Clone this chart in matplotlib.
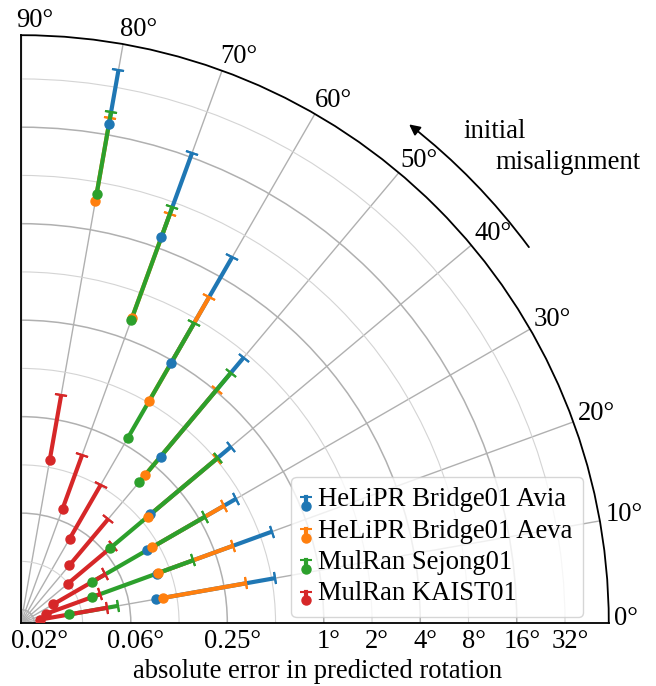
import numpy as np
import matplotlib
matplotlib.use('Agg')
import matplotlib.pyplot as plt
from matplotlib.lines import Line2D
from matplotlib.legend_handler import HandlerBase
from matplotlib.transforms import ScaledTranslation

plt.rcParams['font.family'] = 'serif'
plt.rcParams['font.serif'] = ['Liberation Serif', 'DejaVu Serif']
plt.rcParams['font.size'] = 19.2

# initial misalignment in degrees
misalignment = [10, 20, 30, 40, 50, 60, 70, 80]

# absolute rotation error in degrees: mean and upper spread
avia_mean = [0.093, 0.103, 0.104, 0.146, 0.292, 0.965, 4.71, 18.8]
avia_err = [0.434, 0.498, 0.355, 0.511, 1.58, 4.62, 12.4, 22.2]
aeva_mean = [0.1025, 0.105, 0.113, 0.139, 0.208, 0.512, 1.37, 6.06]
aeva_err = [0.243, 0.226, 0.262, 0.366, 0.812, 2.38, 5.29, 14.3]
sejong_mean = [0.026, 0.038, 0.0422, 0.0685, 0.182, 0.278, 1.32, 6.78]
sejong_err = [0.027, 0.141, 0.232, 0.452, 1.22, 1.59, 6.17, 15.5]
kaist_mean = [0.017, 0.019, 0.0221, 0.031, 0.038, 0.052, 0.0739, 0.139]
kaist_err = [0.028, 0.024, 0.030, 0.041, 0.053, 0.075, 0.095, 0.218]

names = ['HeLiPR Bridge01 Avia', 'HeLiPR Bridge01 Aeva',
         'MulRan Sejong01', 'MulRan KAIST01']
means = [avia_mean, aeva_mean, sejong_mean, kaist_mean]
errs = [avia_err, aeva_err, sejong_err, kaist_err]
colors = ['#1f77b4', '#ff7f0e', '#2ca02c', '#d62728']

theta_ticks = list(range(0, 91, 10))
theta_labels = [f'{t}°' for t in theta_ticks]
r_major = [2**-6, 2**-4, 2**-2, 1, 4, 16]
r_minor = [2**-5, 2**-3, 2**-1, 2, 8, 32]
r_labeled = [2**-6, 2**-4, 2**-2, 1, 2, 4, 8, 16, 32]
r_labels = ['0.02°', '0.06°', '0.25°', '1°', '2°', '4°', '8°', '16°', '32°']
r_min, r_max = 0.0129, 60


class UpperCapHandler(HandlerBase):
    """legend key: bar going up from the marker, cap on top"""
    def create_artists(self, legend, orig_handle, xdescent, ydescent,
                       width, height, fontsize, trans):
        c = orig_handle.get_color()
        x = 0.5 * width - xdescent
        ytop = 0.33 * fontsize
        bar = Line2D([x, x], [0, ytop], color=c, lw=3, transform=trans)
        cap = Line2D([x], [ytop], marker='_', ms=9, mew=1.5, color=c,
                     transform=trans)
        dot = Line2D([x], [0], marker='o', ms=6.5, color=c, lw=0,
                     transform=trans)
        return [bar, cap, dot]


def px(dx, dy):
    return ScaledTranslation(dx / 100, dy / 100, fig.dpi_scale_trans)


fig = plt.figure(figsize=(6.56, 6.86), dpi=100)
ax = fig.add_axes([0.032, 0.0918, 0.896, 0.857], projection='polar')
ax.set_thetamin(0)
ax.set_thetamax(90)
ax.set_rscale('log', base=2)
ax.set_rlim(r_min, r_max)

theta = np.radians(misalignment)
for i, (m, e, c) in enumerate(zip(means, errs, colors)):
    m = np.array(m)
    e = np.array(e)
    ax.errorbar(theta, m, yerr=[np.zeros_like(e), e], fmt='none', ecolor=c,
                elinewidth=3, capsize=0, zorder=2 + 0.1 * i)
    # caps only at the outer end of each bar
    ax.errorbar(theta, m + e, yerr=0, fmt='none', ecolor=c, elinewidth=0,
                capsize=4.7, capthick=1.5, zorder=2 + 0.1 * i)
for i, (m, c) in enumerate(zip(means, colors)):
    ax.plot(theta, m, 'o', color=c, ms=6.5, zorder=3 + 0.1 * i)

ax.set_thetagrids(theta_ticks)
ax.set_yticks(r_major)
ax.set_yticks(r_minor, minor=True)
ax.tick_params(which='both', labelbottom=False, labelleft=False,
               labeltop=False, labelright=False)
ax.xaxis.grid(True, color='#b0b0b0', lw=1.0)
ax.yaxis.grid(True, which='major', color='#b0b0b0', lw=1.1)
ax.yaxis.grid(True, which='minor', color='#d4d4d4', lw=0.8)
ax.set_axisbelow(True)
for sp in ax.spines.values():
    sp.set_linewidth(1.3)

# angle labels just outside the arc
for t, lab in zip(theta_ticks, theta_labels):
    a = np.radians(t)
    ax.text(a, r_max, lab, ha='left', va='baseline', clip_on=False,
            transform=ax.transData + px(10.5 * np.cos(a) - 5,
                                        10.5 * np.sin(a) - 2))
# error labels under the 0 deg edge
for r, lab in zip(r_labeled, r_labels):
    ax.text(0, r, lab, ha='center', va='baseline', clip_on=False,
            transform=ax.transData + px(5, -25))

handles = [Line2D([], [], color=c) for c in colors]
ax.legend(handles, names, handler_map={Line2D: UpperCapHandler()},
          loc='lower right', bbox_to_anchor=(0.956, 0.010), borderaxespad=0,
          handlelength=0.3, handletextpad=0.3, labelspacing=0.24,
          fontsize=19.2)

# direction of increasing misalignment
ax.annotate('', xy=(np.radians(52.1), 113), xytext=(np.radians(36.5), 113),
            arrowprops=dict(arrowstyle='-|>', color='black', lw=1.3,
                            connectionstyle='arc3,rad=0.068',
                            shrinkA=0, shrinkB=0, mutation_scale=16),
            annotation_clip=False)
fig.text(463 / 656, 1 - 138 / 686, 'initial', ha='left', va='baseline')
fig.text(495 / 656, 1 - 169 / 686, 'misalignment', ha='left', va='baseline')
fig.text(318 / 656, 1 - 678 / 686, 'absolute error in predicted rotation',
         ha='center', va='baseline')

fig.savefig('out.png', dpi=100)
